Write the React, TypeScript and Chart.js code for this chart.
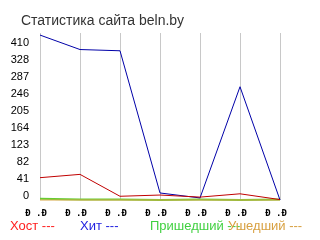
import { useEffect, useRef } from 'react';
import { Chart, registerables } from 'chart.js';

Chart.register(...registerables);

const chartTitle = 'Статистика сайта beln.by';
const categories = ['Ð .Ð', 'Ð .Ð', 'Ð .Ð', 'Ð .Ð', 'Ð .Ð', 'Ð .Ð', 'Ð .Ð'];
const yTickValues = [0, 41, 82, 123, 164, 205, 246, 287, 328, 369];
const yTickLabels = ['0', '41', '82', '123', '164', '205', '246', '287', '328', '410'];
const seriesNames = ['Хост', 'Хит', 'Пришедший', 'Ушедший'];
const hostValues = [54, 62, 9, 12, 7, 15, 1];
const hitValues = [399, 364, 361, 17, 5, 274, 0];
const incomingValues = [3, 1, 1, 0, 1, 0, 1];
const outgoingValues = [0, 0, 0, 0, 0, 0, 0];

const lineColors = ['#c00000', '#0000a8', '#66cc33', '#d8a848'];
const legendColors = ['#ff2020', '#2020e0', '#40d040', '#d8a040'];

const textPlugin = {
  id: 'textPlugin',
  afterDraw(chart: any) {
    const ctx = chart.ctx;
    ctx.save();
    ctx.textBaseline = 'middle';
    ctx.textAlign = 'left';
    ctx.fillStyle = '#333333';
    ctx.font = '14px "Liberation Sans"';
    ctx.fillText(chartTitle, 21, 21);
    const legendX = [10, 80, 150, 228];
    ctx.font = '13px "Liberation Sans"';
    seriesNames.forEach((name, i) => {
      ctx.fillStyle = legendColors[i];
      ctx.fillText(name + ' ---', legendX[i], 226);
    });
    ctx.restore();
  },
};

export default function App() {
  const ref = useRef<HTMLCanvasElement>(null);
  useEffect(() => {
    const seriesValues = [hostValues, hitValues, incomingValues, outgoingValues];
    const widths = [1, 1, 2, 1];
    const orders = [0, 1, 3, 2];
    const chart = new Chart(ref.current!, {
      type: 'line',
      data: {
        labels: categories,
        datasets: seriesNames.map((name, i) => ({
          label: name,
          data: seriesValues[i],
          borderColor: lineColors[i],
          backgroundColor: lineColors[i],
          borderWidth: widths[i],
          pointRadius: 0,
          tension: 0,
          fill: false,
          clip: false as any,
          order: orders[i],
        })),
      },
      options: {
        responsive: false,
        animation: false,
        devicePixelRatio: 1,
        layout: { padding: { left: 0, top: 33, right: 40, bottom: 20 } },
        plugins: {
          legend: { display: false },
          tooltip: { enabled: false },
          title: { display: false },
        },
        scales: {
          x: {
            grid: { color: '#c8c8c8', drawTicks: false, lineWidth: 1 },
            border: { display: false },
            ticks: {
              font: { family: 'DejaVu Sans Mono', size: 9, weight: 'bold' },
              color: '#000',
              padding: 8,
              maxRotation: 0,
              autoSkip: false,
              labelOffset: -4,
            },
            afterFit: (s: any) => {
              s.height = 20;
            },
          },
          y: {
            min: 0,
            max: 404,
            grid: { display: false },
            border: { display: false },
            afterBuildTicks: (s: any) => {
              s.ticks = yTickValues.map((v) => ({ value: v }));
            },
            ticks: {
              callback: (_v: any, i: number) => yTickLabels[i],
              font: { family: 'Liberation Sans', size: 11 },
              color: '#000',
              padding: 3,
              labelOffset: -4,
              autoSkip: false,
            },
            afterFit: (s: any) => {
              s.width = 40;
            },
          },
        },
      },
      plugins: [textPlugin],
    });
    return () => chart.destroy();
  }, []);
  return (
    <div style={{ position: 'absolute', left: 0, top: 0, width: 320, height: 240, background: '#fff' }}>
      <canvas ref={ref} width={320} height={240} style={{ display: 'block' }} />
    </div>
  );
}
